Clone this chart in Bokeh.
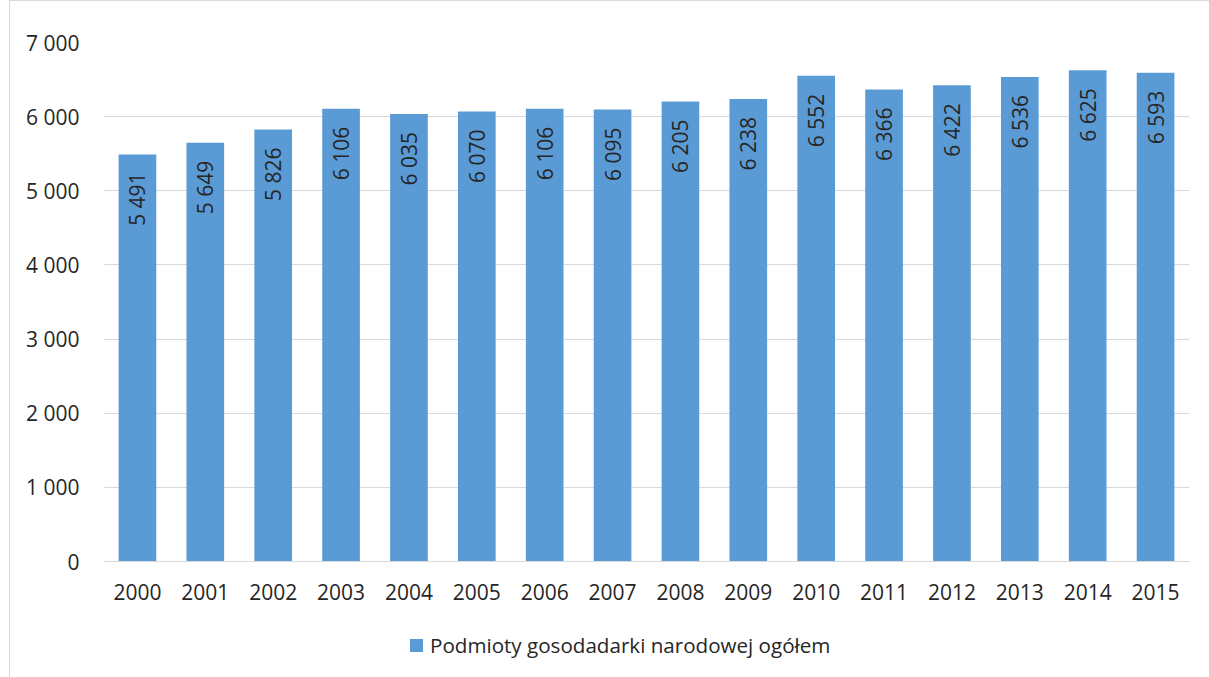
from bokeh.plotting import figure
from bokeh.layouts import column
from bokeh.models import ColumnDataSource, FactorRange, Range1d, FixedTicker, Div
from bokeh.core.properties import value
from bokeh.embed import file_html
from bokeh.resources import INLINE
import math

years = ["2000", "2001", "2002", "2003", "2004", "2005", "2006", "2007",
         "2008", "2009", "2010", "2011", "2012", "2013", "2014", "2015"]
counts = [5491, 5649, 5826, 6106, 6035, 6070, 6106, 6095,
          6205, 6238, 6552, 6366, 6422, 6536, 6625, 6593]
y_ticks = [0, 1000, 2000, 3000, 4000, 5000, 6000, 7000]
series_name = "Podmioty gosodadarki narodowej ogółem"

def fmt(v):
    return f"{v:,}".replace(",", " ")

FONT = "Open Sans"
TXT = "#262626"
GRID = "#d9d9d9"
BAR = "#5B9BD5"
FS = "21px"

src = ColumnDataSource(dict(year=years, count=counts, label=[fmt(v) for v in counts]))

p = figure(frame_width=1086, frame_height=519, output_backend="svg", toolbar_location=None,
           x_range=FactorRange(*years, range_padding=0), y_range=Range1d(0, 7000),
           min_border_left=93, min_border_top=41, min_border_right=15, min_border_bottom=60)
p.outline_line_color = None

r = p.vbar(x="year", top="count", width=0.555, source=src, fill_color=BAR, line_color=None)
p.text(x="year", y="count", text="label", source=src, angle=math.pi / 2,
       text_align="right", text_baseline="middle", y_offset=18,
       text_font=value(FONT), text_font_size=FS, text_color=TXT)

p.yaxis.ticker = FixedTicker(ticks=y_ticks)
p.yaxis.major_label_overrides = {t: fmt(t) for t in y_ticks}
p.yaxis.axis_line_color = None
p.yaxis.major_tick_line_color = None
p.yaxis.minor_tick_line_color = None
p.yaxis.major_tick_out = 0
p.yaxis.major_label_standoff = 24
p.yaxis.major_label_text_font = FONT
p.yaxis.major_label_text_font_size = FS
p.yaxis.major_label_text_color = TXT

p.xaxis.axis_line_color = GRID
p.xaxis.axis_line_width = 1
p.xaxis.major_tick_line_color = None
p.xaxis.major_tick_out = 0
p.xaxis.major_label_standoff = 22
p.xaxis.major_label_text_font = FONT
p.xaxis.major_label_text_font_size = FS
p.xaxis.major_label_text_color = TXT

p.xgrid.grid_line_color = None
p.ygrid.grid_line_color = GRID
p.ygrid.ticker = FixedTicker(ticks=y_ticks)

legend_html = (
    '<div style="padding-left:395px;padding-top:3px;line-height:28px;white-space:nowrap;'
    f'font-family:\'{FONT}\';font-size:20.6px;color:{TXT}">'
    f'<span style="display:inline-block;width:13px;height:13px;background:{BAR};'
    'margin-right:7px;vertical-align:middle"></span>'
    f'<span style="vertical-align:middle">{series_name}</span></div>'
)
legend_div = Div(text=legend_html, width=1194, height=53)

layout = column(p, legend_div, spacing=0,
                styles={"border": "1px solid #d9d9d9", "margin-left": "9px"})

open("out.html", "w").write(file_html(layout, INLINE))
